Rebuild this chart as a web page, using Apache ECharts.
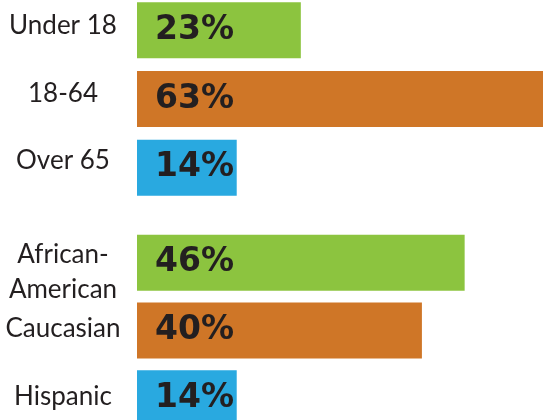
<!DOCTYPE html>
<html>
<head>
<meta charset="utf-8">
<script src="https://cdn.jsdelivr.net/npm/echarts@6/dist/echarts.min.js"></script>
<style>
  html, body { margin: 0; padding: 0; background: #fff; }
  #chart { width: 543px; height: 420px; }
</style>
</head>
<body>
<div id="chart"></div>
<script>
// age groups & race groups
var ageCats = ['Under 18', '18-64', 'Over 65'];
var ageValues = [23, 63, 14];
var raceCats = ['African-\nAmerican', 'Caucasian', 'Hispanic'];
var raceValues = [46, 40, 14];
var barColors = ['#8cc43f', '#cf7627', '#29a9e0'];

(function(){
    var myChart = echarts.init(document.getElementById('chart'));

    function catAxis(cats, gridIndex, pads) {
        return {
            type: 'category',
            gridIndex: gridIndex,
            inverse: true,
            data: cats.map(function(c, i) {
                return { value: c, textStyle: { padding: pads[i] } };
            }),
            axisLine: { show: false },
            axisTick: { show: false },
            axisLabel: {
                margin: 9,
                formatter: function(v) {
                    return v.split('\n').map(function(s) { return '{a|' + s + '}'; }).join('\n');
                },
                rich: {
                    a: {
                        width: 130,
                        align: 'center',
                        fontSize: 26,
                        lineHeight: 35,
                        fontFamily: 'Lato',
                        color: '#231f20'
                    }
                }
            }
        };
    }

    function valAxis(gridIndex) {
        return {
            type: 'value',
            gridIndex: gridIndex,
            min: 0,
            max: 57,
            show: false,
            splitLine: { show: false }
        };
    }

    function barSeries(values, idx) {
        return {
            type: 'bar',
            xAxisIndex: idx,
            yAxisIndex: idx,
            barWidth: 56,
            data: values.map(function(v, i) {
                return { value: v, itemStyle: { color: barColors[i] } };
            }),
            label: {
                show: true,
                position: 'insideLeft',
                distance: 18,
                formatter: '{c}%',
                fontSize: 33,
                fontWeight: 'bold',
                fontFamily: 'DejaVu Sans',
                color: '#231f20'
            }
        };
    }

    var option = {
        backgroundColor: '#fff',
        animation: false,
        grid: [
            { left: 137, right: 0, top: -4, height: 206, containLabel: false, outerBoundsMode: 'none' },
            { left: 137, right: 0, top: 229, height: 203, containLabel: false, outerBoundsMode: 'none' }
        ],
        xAxis: [valAxis(0), valAxis(1)],
        yAxis: [
            catAxis(ageCats, 0, [[0, 0, 10, 0], [0, 0, 10, 0], [0, 0, 14, 0]]),
            catAxis(raceCats, 1, [[18, 0, 0, 0], [0, 0, 4, 0], [0, 0, 4, 0]])
        ],
        series: [barSeries(ageValues, 0), barSeries(raceValues, 1)]
    };
    myChart.setOption(option);
    window.addEventListener('resize', function() {
        myChart.resize();
    })
})();
</script>
</body>
</html>
